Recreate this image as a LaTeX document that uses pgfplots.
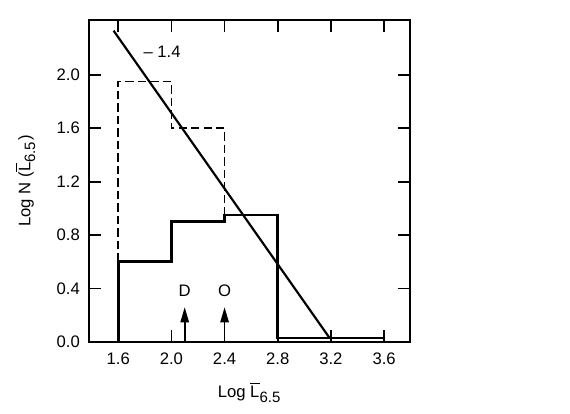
\documentclass[border=0pt]{standalone}
\usepackage{pgfplots}
\pgfplotsset{compat=1.18}
\usepackage{fontspec}
\setmainfont{Liberation Sans}
\usetikzlibrary{arrows.meta}
\begin{document}
\begin{tikzpicture}
\path[use as bounding box] (0,0) rectangle (342pt,248.4pt);
\begin{axis}[
  at={(53.4pt,43.2pt)}, anchor=south west,
  scale only axis, width=192.6pt, height=193.2pt,
  xmin=1.38, xmax=3.795, ymin=0, ymax=2.41,
  xtick={1.6,2.0,2.4,2.8,3.2,3.6},
  ytick={0,0.4,0.8,1.2,1.6,2.0},
  tick align=inside, major tick length=7pt,
  axis line style={line width=1.1pt},
  every tick/.style={line width=1pt,black},
  tick label style={font=\normalsize},
  xticklabel style={yshift=-3pt},
  yticklabel style={xshift=-2pt},
  /pgf/number format/assume math mode=true,
  /pgf/number format/.cd, fixed, fixed zerofill, precision=1,
  /pgfplots/.cd,
  xlabel={Log $\overline{\mbox{L}}_{\mbox{\small 6.5}}$},
  ylabel={Log N ($\overline{\mbox{L}}_{\mbox{\small 6.5}}$)},
  xlabel style={font=\normalsize, yshift=-4pt},
  ylabel style={font=\normalsize, yshift=6pt},
  clip=false,
]
\addplot[black, line width=1.6pt] coordinates {
  (1.6,0) (1.6,0.6) (2.0,0.6) (2.0,0.9) (2.4,0.9) (2.4,0.95) (2.8,0.95) (2.8,0.03) (3.6,0.03) (3.6,0)};
\addplot[black, line width=0.9pt, dash pattern=on 5pt off 2.5pt] coordinates {
  (1.6,0.6) (1.6,1.95) (2.0,1.95) (2.0,1.6) (2.4,1.6) (2.4,0.95)};
\addplot[black, line width=1.3pt] coordinates {(1.565,2.33) (3.19,0.03)};
\addplot[black, line width=1pt, -{Triangle[length=9pt,width=5pt]}] coordinates {(2.1,0) (2.1,0.26)};
\addplot[black, line width=1pt, -{Triangle[length=9pt,width=5pt]}] coordinates {(2.4,0) (2.4,0.26)};
\node[font=\normalsize] at (axis cs:2.1,0.38) {D};
\node[font=\normalsize] at (axis cs:2.4,0.38) {O};
\node[font=\normalsize] at (axis cs:1.93,2.17) {– 1.4};
\end{axis}
\end{tikzpicture}
\end{document}
